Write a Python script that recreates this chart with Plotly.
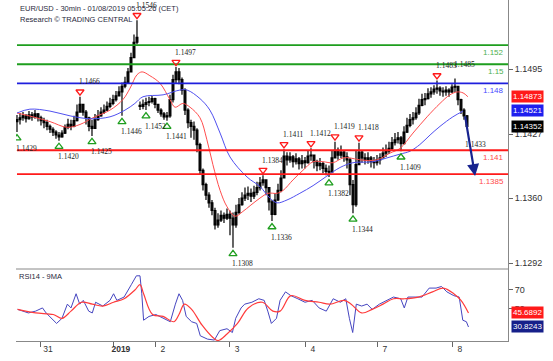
import plotly.graph_objects as go

# ---------------- data ----------------
open_ = [1.1440,1.1442,1.1444,1.1446,1.1443,1.1447,1.1445,1.1448,1.1444,1.1441,
 1.1439,1.1435,1.1432,1.1429,1.1426,1.1424,1.1428,1.1434,1.1437,1.1435,
 1.1441,1.1450,1.1458,1.1450,1.1444,1.1435,1.1433,1.1442,1.1446,1.1450,
 1.1452,1.1456,1.1459,1.1463,1.1467,1.1471,1.1477,1.1481,1.1492,1.1507,
 1.1523,1.1457,1.1456,1.1458,1.1460,1.1461,1.1464,1.1458,1.1452,1.1448,
 1.1445,1.1446,1.1463,1.1484,1.1492,1.1484,1.1473,1.1452,1.1439,1.1435,
 1.1431,1.1416,1.1389,1.1374,1.1363,1.1355,1.1347,1.1332,1.1337,1.1342,
 1.1339,1.1343,1.1339,1.1332,1.1345,1.1353,1.1360,1.1363,1.1365,1.1362,
 1.1366,1.1371,1.1376,1.1379,1.1371,1.1356,1.1343,1.1358,1.1368,1.1381,
 1.1404,1.1400,1.1403,1.1398,1.1401,1.1396,1.1399,1.1397,1.1404,1.1405,
 1.1398,1.1394,1.1396,1.1391,1.1388,1.1387,1.1402,1.1410,1.1405,1.1408,
 1.1403,1.1400,1.1374,1.1353,1.1395,1.1408,1.1402,1.1400,1.1402,1.1398,
 1.1397,1.1400,1.1402,1.1407,1.1409,1.1412,1.1418,1.1421,1.1423,1.1417,
 1.1429,1.1436,1.1442,1.1444,1.1449,1.1457,1.1463,1.1464,1.1469,1.1471,
 1.1474,1.1475,1.1472,1.1471,1.1473,1.1471,1.1476,1.1477,1.1463,1.1452,
 1.1446]
high = [1.1447,1.1449,1.1450,1.1448,1.1451,1.1450,1.1452,1.1449,1.1446,1.1444,
 1.1442,1.1437,1.1434,1.1431,1.1429,1.1431,1.1437,1.1443,1.1442,1.1446,
 1.1458,1.1466,1.1458,1.1452,1.1445,1.1442,1.1448,1.1452,1.1455,1.1458,
 1.1461,1.1465,1.1468,1.1472,1.1477,1.1481,1.1487,1.1496,1.1512,1.1531,
 1.1546,1.1461,1.1463,1.1465,1.1466,1.1467,1.1465,1.1458,1.1454,1.1450,
 1.1450,1.1468,1.1489,1.1497,1.1496,1.1486,1.1475,1.1454,1.1442,1.1440,
 1.1433,1.1418,1.1391,1.1376,1.1366,1.1358,1.1350,1.1344,1.1347,1.1345,
 1.1349,1.1347,1.1345,1.1353,1.1360,1.1366,1.1371,1.1372,1.1370,1.1373,
 1.1377,1.1382,1.1384,1.1379,1.1371,1.1358,1.1365,1.1375,1.1389,1.1411,
 1.1408,1.1408,1.1405,1.1407,1.1403,1.1405,1.1403,1.1410,1.1412,1.1405,
 1.1400,1.1402,1.1398,1.1395,1.1394,1.1410,1.1419,1.1413,1.1415,1.1410,
 1.1408,1.1402,1.1379,1.1410,1.1418,1.1410,1.1407,1.1408,1.1404,1.1403,
 1.1405,1.1407,1.1413,1.1416,1.1419,1.1424,1.1428,1.1429,1.1425,1.1435,
 1.1444,1.1448,1.1450,1.1455,1.1464,1.1469,1.1470,1.1475,1.1476,1.1478,
 1.1483,1.1477,1.1476,1.1477,1.1475,1.1479,1.1485,1.1477,1.1464,1.1454,
 1.1447]
low = [1.1429,1.1437,1.1441,1.1439,1.1442,1.1441,1.1443,1.1440,1.1436,1.1433,
 1.1431,1.1428,1.1425,1.1422,1.1420,1.1423,1.1427,1.1432,1.1431,1.1434,
 1.1440,1.1450,1.1446,1.1437,1.1430,1.1425,1.1433,1.1441,1.1445,1.1448,
 1.1451,1.1454,1.1457,1.1461,1.1467,1.1446,1.1475,1.1481,1.1492,1.1507,
 1.1521,1.1452,1.1453,1.1452,1.1456,1.1459,1.1454,1.1449,1.1445,1.1442,
 1.1441,1.1444,1.1460,1.1480,1.1479,1.1468,1.1447,1.1433,1.1423,1.1421,
 1.1408,1.1385,1.1368,1.1358,1.1350,1.1342,1.1327,1.1329,1.1335,1.1334,
 1.1337,1.1321,1.1308,1.1329,1.1343,1.1352,1.1357,1.1358,1.1356,1.1359,
 1.1363,1.1368,1.1373,1.1363,1.1347,1.1336,1.1342,1.1357,1.1366,1.1381,
 1.1394,1.1397,1.1392,1.1395,1.1390,1.1391,1.1391,1.1396,1.1399,1.1391,
 1.1388,1.1389,1.1386,1.1384,1.1382,1.1387,1.1402,1.1400,1.1402,1.1398,
 1.1391,1.1363,1.1344,1.1351,1.1395,1.1397,1.1395,1.1396,1.1392,1.1391,
 1.1394,1.1395,1.1402,1.1403,1.1406,1.1410,1.1415,1.1417,1.1409,1.1416,
 1.1428,1.1434,1.1437,1.1442,1.1447,1.1456,1.1457,1.1463,1.1465,1.1468,
 1.1469,1.1467,1.1466,1.1467,1.1466,1.1470,1.1471,1.1457,1.1448,1.1442,
 1.1433]
close = [1.1442,1.1444,1.1446,1.1443,1.1447,1.1445,1.1448,1.1444,1.1441,1.1439,
 1.1435,1.1432,1.1429,1.1426,1.1424,1.1428,1.1434,1.1437,1.1435,1.1441,
 1.1450,1.1458,1.1450,1.1444,1.1435,1.1433,1.1442,1.1446,1.1450,1.1452,
 1.1456,1.1459,1.1463,1.1467,1.1471,1.1477,1.1481,1.1492,1.1507,1.1523,
 1.1528,1.1456,1.1458,1.1460,1.1461,1.1464,1.1458,1.1452,1.1448,1.1445,
 1.1446,1.1463,1.1484,1.1492,1.1484,1.1473,1.1452,1.1439,1.1435,1.1431,
 1.1416,1.1389,1.1374,1.1363,1.1355,1.1347,1.1332,1.1337,1.1342,1.1339,
 1.1343,1.1339,1.1332,1.1345,1.1353,1.1360,1.1363,1.1365,1.1362,1.1366,
 1.1371,1.1376,1.1379,1.1371,1.1356,1.1343,1.1358,1.1368,1.1381,1.1404,
 1.1400,1.1403,1.1398,1.1401,1.1396,1.1399,1.1397,1.1404,1.1405,1.1398,
 1.1394,1.1396,1.1391,1.1388,1.1387,1.1402,1.1410,1.1405,1.1408,1.1403,
 1.1400,1.1374,1.1353,1.1395,1.1408,1.1402,1.1400,1.1402,1.1398,1.1397,
 1.1400,1.1402,1.1407,1.1409,1.1412,1.1418,1.1421,1.1423,1.1417,1.1429,
 1.1436,1.1442,1.1444,1.1449,1.1457,1.1463,1.1464,1.1469,1.1471,1.1474,
 1.1475,1.1472,1.1471,1.1473,1.1471,1.1476,1.1477,1.1463,1.1452,1.1446,
 1.1435]
bars = list(range(len(close)))

# moving averages (read at sample bars)
ma_red_x = [0,5.3,11,16.7,21,25.3,31,35.3,37.7,40,41.7,44.3,47.7,51,52.7,55.3,57.7,61,63.3,65.3,67.7,70,72.7,
            75.3,77.7,81,83.7,86.7,88.7,92,95.3,98.7,102,105.3,108.7,111,114.3,120,124.3,127.7,132,136.7,141,
            144.3,146.7,148.7,150.3]
ma_red_y = [1.1449,1.1445,1.1440,1.1434,1.1437,1.1444,1.1452,1.1463,1.1475,1.1489,1.1492,1.1488,1.1480,1.1463,
            1.1455,1.1459,1.1455,1.1444,1.1421,1.1395,1.1368,1.1351,1.1341,1.1346,1.1352,1.1360,1.1365,1.1365,
            1.1368,1.1379,1.1389,1.1398,1.1398,1.1397,1.1402,1.1402,1.1400,1.1400,1.1407,1.1412,1.1428,1.1445,
            1.1459,1.1468,1.1471,1.1470,1.1466]
ma_blue_x = [0,4.3,11,17.7,24.3,31,36,39.3,42,48.7,54.3,56.7,61,64.3,67.7,71,76.7,81,84.3,86.7,90,94.3,98.7,
             103.3,107.7,112,118.7,123.3,127.7,131,134.3,137.7,141,145.3,148.7]
ma_blue_y = [1.1449,1.1453,1.1451,1.1446,1.1443,1.1445,1.1452,1.1459,1.1466,1.1468,1.1473,1.1473,1.1464,1.1452,
             1.1428,1.1403,1.1382,1.1372,1.1360,1.1355,1.1358,1.1365,1.1373,1.1383,1.1392,1.1397,1.1398,1.1402,
             1.1406,1.1409,1.1416,1.1426,1.1435,1.1445,1.1451]

# RSI14 and its 9-period MA
rsi_x = [0.2,3.8,6.2,8.5,9.7,13.2,15.0,16.8,18.0,19.7,20.9,22.1,23.9,25.1,26.2,28.6,31.0,32.2,33.3,35.7,38.1,
         39.8,41.0,41.6,42.2,44.0,46.3,48.7,51.1,52.8,54.0,55.2,56.4,58.2,59.9,61.1,63.5,65.8,67.6,70.0,71.8,
         72.9,74.7,75.9,78.3,80.6,82.4,83.6,84.8,86.5,87.7,89.5,91.3,93.6,96.0,98.4,100.7,103.1,105.4,107.8,
         109.6,110.8,111.9,113.1,114.9,116.7,118.4,120.8,123.2,125.5,127.9,129.1,130.3,132.6,135.0,137.4,
         139.7,141.5,143.3,145.6,147.4,148.6,149.8,150.5]
rsi_y = [49.5,45.7,47.6,51,45.7,34.6,40,55,51,66,55,59,47.6,45.7,57,53,59,66,59,62.5,75.6,85,85,66,38,42,44,40,
         36.4,55,66,59,42,36.4,34.6,21.5,18,17,27,29,25,40,51,55,57,60.7,59,47.6,34.6,40,59,68,64,60.7,57,59,
         51,47.6,60.7,57,60.7,40,25,55,53,55,49.5,55,59,62.5,60.7,51,62.5,62.5,62.5,72,72,73.7,68,64,62.5,38,
         36.4,30.8243]
rsi_ma_x = [0.2,6.2,12.1,15.0,18.0,21.5,25.1,28.6,32.2,35.7,39.3,41.0,42.2,45.2,48.7,52.3,54.0,55.8,58.2,61.7,
            65.3,67.0,70.0,73.5,77.1,81.8,85.3,87.7,91.3,96.0,100.7,104.3,109.0,111.4,114.9,118.4,122.0,125.5,
            129.1,133.8,138.5,142.1,145.6,148.0,150.5]
rsi_ma_y = [49.5,45.7,44,40,47.6,57,55,53,57,60.7,70,75.6,66,44,42,36.4,44,55,49.5,32.7,19.7,16.5,23.4,34.6,51,
            57,47.6,47.6,64,59,57,55,59,55,45.7,49.5,55,60.7,60.7,62.5,68,72,66,59,45.6892]

# support / resistance levels
level_values = [1.152, 1.15, 1.148, 1.141, 1.1385]
level_labels = ["1.152", "1.15", "1.148", "1.141", "1.1385"]
level_colors = ["#1e9e1e", "#1e9e1e", "#1f1fdd", "#ff1a1a", "#ff1a1a"]
level_text_colors = ["#4fb04f", "#4fb04f", "#4a4aff", "#ff4a4a", "#ff4a4a"]

# swing lows (green) and highs (red)
low_bars = [0, 14, 25, 35, 43, 50, 72, 85, 104, 112, 128]
low_vals = [1.1429, 1.1420, 1.1425, 1.1446, 1.1452, 1.1441, 1.1308, 1.1336, 1.1382, 1.1344, 1.1409]
high_bars = [21, 40, 53, 82, 89, 98, 106, 114, 140]
high_vals = [1.1466, 1.1546, 1.1497, 1.1384, 1.1411, 1.1412, 1.1419, 1.1418, 1.1483]
extra_high = (146, 1.1485)
extra_low = (150, 1.1433)

# forecast arrow
arrow_from = (149.3, 1.1447)
arrow_to = (152.7, 1.1383)

# right-hand value tags
price_tags = [("1.14873", 1.14873, "#ff1a1a", -20), ("1.14521", 1.14521, "#1f1fee", 0),
              ("1.14352", 1.14352, "#000000", 0)]
rsi_tags = [("45.6892", 45.6892, "#ff1a1a"), ("30.8243", 30.8243, "#16208a")]

# axis ticks
price_ticks = [1.1495, 1.1427, 1.1360, 1.1292]
rsi_ticks = [50, 70]
day_ticks = [8, 32.3, 46.3, 71, 96.3, 120.3, 145.3]
day_labels = ["31", "<b>2019</b>", "2", "3", "4", "7", "8"]

title_1 = "EUR/USD - 30min - 01/08/2019 05:05:26 (CET)"
title_2 = "Research © TRADING CENTRAL"

# ---------------- figure ----------------
W, H = 553, 361
M = dict(l=16, r=45, t=0, b=20)
plot_h = H - M["t"] - M["b"]
rsi_h = 72
split = rsi_h / plot_h
y_range = [1.12858, 1.15672]
rsi_range = [16, 92.2]
x_range = [-0.33, 163.67]
ppx = (y_range[1] - y_range[0]) / (plot_h - rsi_h)   # price per pixel

SANS = "Liberation Sans, Arial, sans-serif"
SERIF = "Liberation Serif, Times New Roman, serif"

fig = go.Figure()
fig.add_trace(go.Candlestick(
    x=bars, open=open_, high=high, low=low, close=close,
    increasing=dict(line=dict(color="#000", width=1.2), fillcolor="#000"),
    decreasing=dict(line=dict(color="#000", width=1.2), fillcolor="#000"),
    whiskerwidth=0, showlegend=False, xaxis="x", yaxis="y"))
fig.add_trace(go.Scatter(x=ma_red_x, y=ma_red_y, mode="lines", line=dict(color="#ff4d4d", width=1),
                         line_shape="spline", showlegend=False, yaxis="y"))
fig.add_trace(go.Scatter(x=ma_blue_x, y=ma_blue_y, mode="lines", line=dict(color="#5050f0", width=1),
                         line_shape="spline", showlegend=False, yaxis="y"))

for v, c in zip(level_values, level_colors):
    fig.add_trace(go.Scatter(x=[0, x_range[1]], y=[v, v], mode="lines", line=dict(color=c, width=1.8),
                             showlegend=False, yaxis="y", hoverinfo="skip"))

fig.add_trace(go.Scatter(x=low_bars, y=[v - 6 * ppx for v in low_vals], mode="markers",
                         marker=dict(symbol="triangle-up-open", size=7, color="#1e9e1e", line=dict(width=1.3)),
                         showlegend=False, yaxis="y"))
fig.add_trace(go.Scatter(x=high_bars, y=[v + 5 * ppx for v in high_vals], mode="markers",
                         marker=dict(symbol="triangle-down-open", size=7, color="#ff1a1a", line=dict(width=1.3)),
                         showlegend=False, yaxis="y"))

fig.add_trace(go.Scatter(x=rsi_x, y=rsi_y, mode="lines", line=dict(color="#4545c0", width=1),
                         showlegend=False, yaxis="y2"))
fig.add_trace(go.Scatter(x=rsi_ma_x, y=rsi_ma_y, mode="lines", line=dict(color="#ff3b3b", width=1.2),
                         line_shape="spline", showlegend=False, yaxis="y2"))

ann = []
lab_font = dict(family=SERIF, size=7.5, color="#222")
for b, v in zip(low_bars, low_vals):
    ann.append(dict(x=b, y=v, xref="x", yref="y", text=f"{v:.4f}", showarrow=False, xanchor="left",
                    yanchor="middle", xshift=-3, yshift=-16, font=lab_font))
for b, v in zip(high_bars, high_vals):
    ann.append(dict(x=b, y=v, xref="x", yref="y", text=f"{v:.4f}", showarrow=False, xanchor="left",
                    yanchor="middle", xshift=-3, yshift=15, font=lab_font))
ann.append(dict(x=extra_high[0], y=extra_high[1], xref="x", yref="y", text=f"{extra_high[1]:.4f}",
                showarrow=False, xanchor="left", yanchor="middle", xshift=-3, yshift=14, font=lab_font))
ann.append(dict(x=extra_low[0], y=extra_low[1], xref="x", yref="y", text=f"{extra_low[1]:.4f}",
                showarrow=False, xanchor="left", yanchor="middle", xshift=-4, yshift=-16, font=lab_font))

for v, t, c in zip(level_values, level_labels, level_text_colors):
    ann.append(dict(x=1, y=v, xref="paper", yref="y", text=t, showarrow=False, xanchor="right",
                    yanchor="top", xshift=-2, yshift=-1, font=dict(family=SANS, size=8, color=c)))

for t, v, c, dy in price_tags:
    ann.append(dict(x=1, y=v, xref="paper", yref="y", text=t, showarrow=False, xanchor="left",
                    yanchor="middle", xshift=3, yshift=dy, bgcolor=c, borderpad=1,
                    font=dict(family=SANS, size=8, color="white")))
for t, v, c in rsi_tags:
    ann.append(dict(x=1, y=v, xref="paper", yref="y2", text=t, showarrow=False, xanchor="left",
                    yanchor="middle", xshift=3, bgcolor=c, borderpad=1,
                    font=dict(family=SANS, size=8, color="white")))

ann.append(dict(x=arrow_to[0], y=arrow_to[1], ax=arrow_from[0], ay=arrow_from[1], xref="x", yref="y",
                axref="x", ayref="y", text="", showarrow=True, arrowhead=2, arrowsize=1.1,
                arrowwidth=2.2, arrowcolor="#17238f"))

ann.append(dict(x=0, y=1, xref="paper", yref="paper", text=title_1, showarrow=False, xanchor="left",
                yanchor="middle", xshift=2, yshift=-8, font=dict(family=SANS, size=7.5, color="#2a2a40")))
ann.append(dict(x=0, y=1, xref="paper", yref="paper", text=title_2, showarrow=False, xanchor="left",
                yanchor="middle", xshift=2, yshift=-19, font=dict(family=SANS, size=7.5, color="#2a2a40")))
ann.append(dict(x=0, y=split, xref="paper", yref="paper", text="RSI14 - 9MA", showarrow=False,
                xanchor="left", yanchor="middle", xshift=1, yshift=-7,
                font=dict(family=SANS, size=7.5, color="#2a2a40")))

fig.update_layout(
    width=W, height=H, margin=M, paper_bgcolor="white", plot_bgcolor="white",
    showlegend=False, annotations=ann, boxgap=0.15,
    xaxis=dict(domain=[0, 1], range=x_range, anchor="y2", showline=True, linecolor="#888", linewidth=1,
               ticks="outside", ticklen=5, tickcolor="#666", tickvals=day_ticks, ticktext=day_labels,
               tickfont=dict(family=SANS, size=8.5, color="#333"), ticklabelshift=7, ticklabelstandoff=-5,
               showgrid=False, zeroline=False, rangeslider=dict(visible=False)),
    yaxis=dict(domain=[split, 1], range=y_range, side="right", anchor="x", showline=True, linecolor="#888",
               ticks="outside", ticklen=4, tickcolor="#666", tickvals=price_ticks,
               ticktext=[f"{v:.4f}" for v in price_ticks], tickfont=dict(family=SANS, size=9, color="#333"),
               showgrid=False, zeroline=False),
    yaxis2=dict(domain=[0, split], range=rsi_range, side="right", anchor="x", showline=True, linecolor="#888",
                ticks="outside", ticklen=4, tickcolor="#666", tickvals=rsi_ticks,
                ticktext=[str(v) for v in rsi_ticks], tickfont=dict(family=SANS, size=9, color="#333"),
                showgrid=False, zeroline=False),
    shapes=[dict(type="line", xref="paper", yref="paper", x0=0, x1=1, y0=split, y1=split,
                 line=dict(color="#888", width=1))],
)

fig.write_html("out.html", config={"displayModeBar": False},
               post_script="document.body.style.margin='0';document.body.style.overflow='hidden';")
